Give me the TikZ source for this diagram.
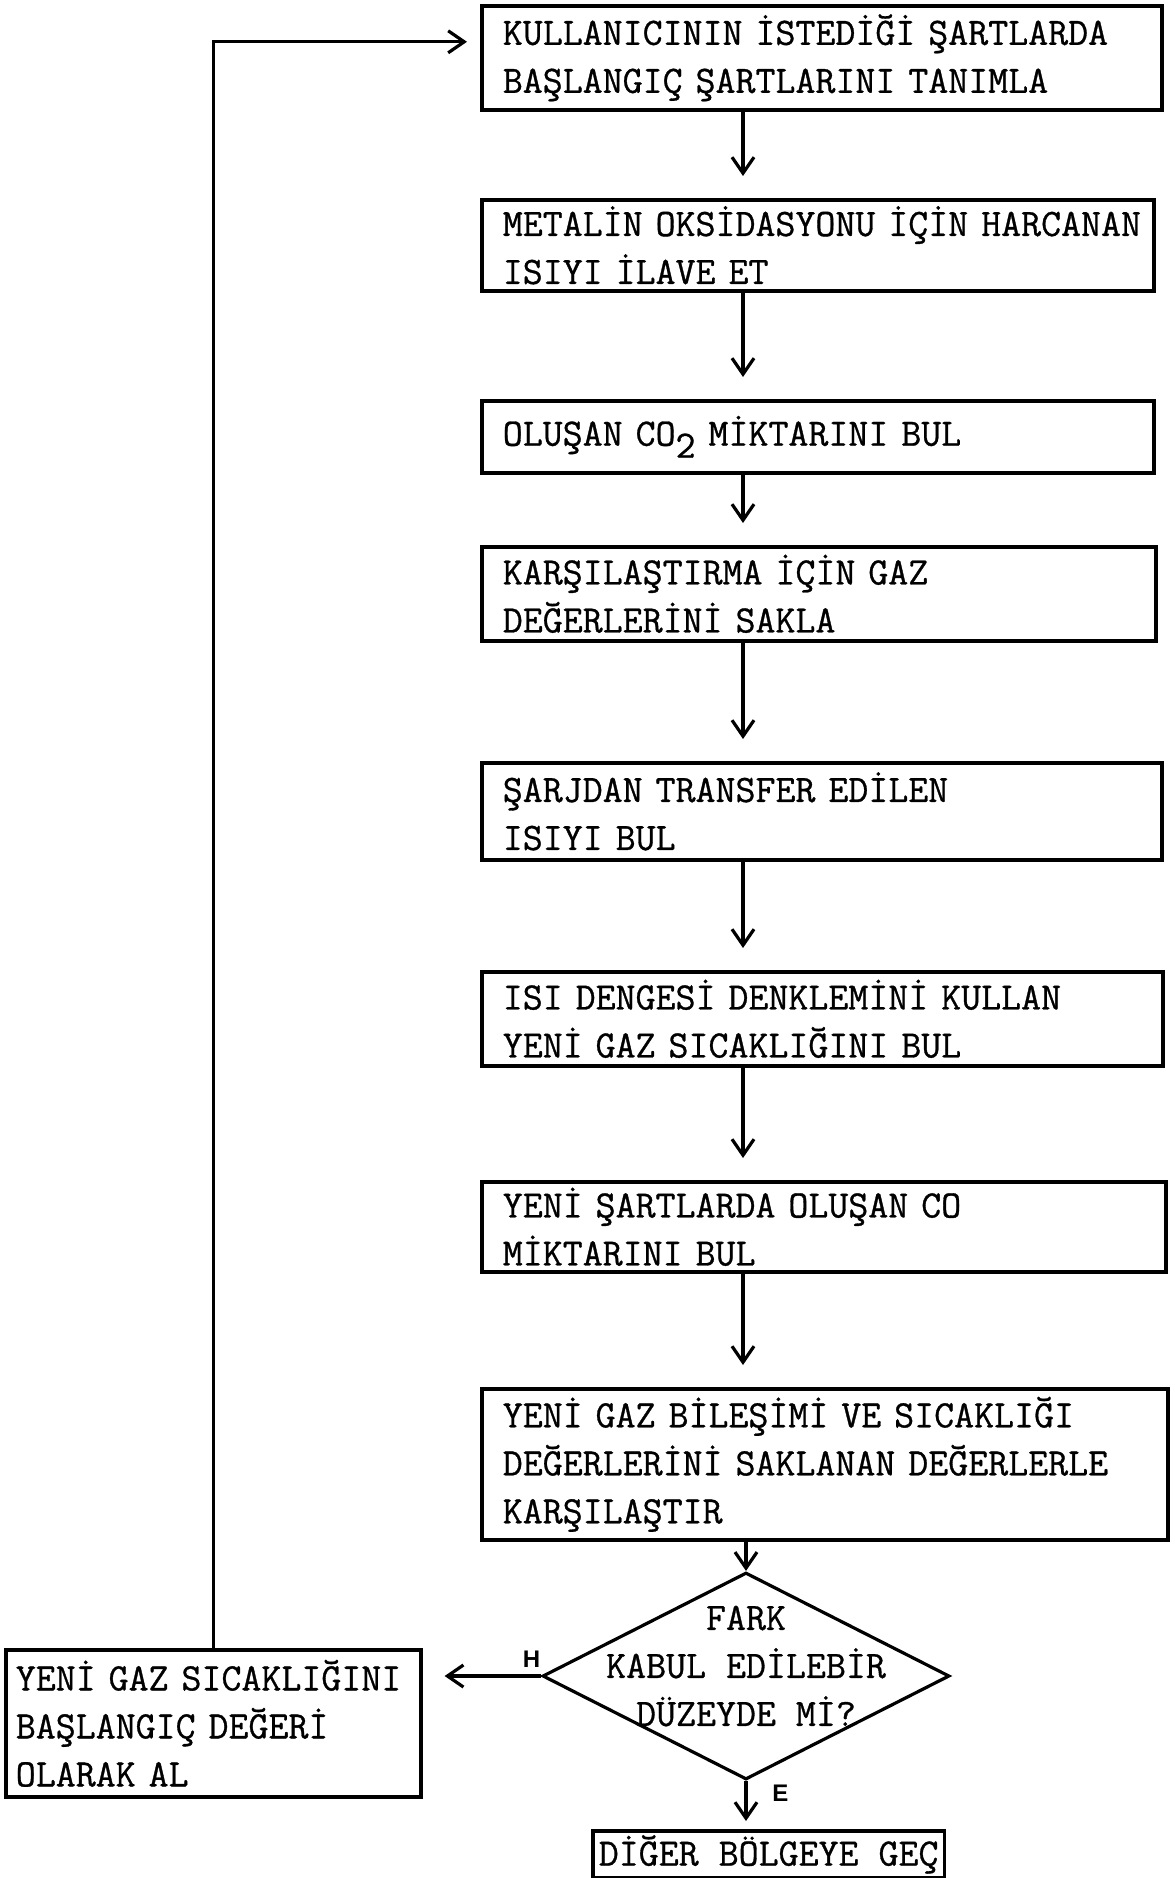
\documentclass[tikz,border=0pt]{standalone}
\usepackage{fontspec}
\setsansfont{Liberation Sans}
\newfontfamily\typewriter[FakeBold=0.8]{Latin Modern Mono}
\usetikzlibrary{arrows.meta,shapes.geometric}

\begin{document}
\begin{tikzpicture}[x=0.5pt, y=-0.5pt, >={Straight Barb[length=8pt,width=11pt]},
 every node/.style={font=\typewriter\fontsize{19.4}{24}\selectfont},
 stepbox/.style={draw, line width=1.8pt, anchor=north west, align=left,
  inner xsep=10.5pt, inner ysep=2pt},
 flow/.style={->, line width=1.6pt, shorten >=11pt},
 answer/.style={font=\sffamily\bfseries\fontsize{12}{14}\selectfont}]
\useasboundingbox (0,0) rectangle (1174,1878);
\coordinate (spine) at (743,0);
\node[stepbox, minimum width=340pt, minimum height=52pt, text width=319pt] (init) at (480,4)
 {KULLANICININ İSTEDİĞİ ŞARTLARDA\\BAŞLANGIÇ ŞARTLARINI TANIMLA};
\node[stepbox, minimum width=336pt, minimum height=45.5pt, text width=315pt] (oxid) at (480,198)
 {\mbox{METALİN OKSİDASYONU İÇİN HARCANAN}\\ISIYI İLAVE ET};
\node[stepbox, minimum width=336pt, minimum height=36pt, text width=315pt] (carbon) at (480,399)
 {OLUŞAN CO\raisebox{-6pt}{2} MİKTARINI BUL};
\node[stepbox, minimum width=337pt, minimum height=47pt, text width=316pt] (store) at (480,545)
 {KARŞILAŞTIRMA İÇİN GAZ\\DEĞERLERİNİ SAKLA};
\node[stepbox, minimum width=340pt, minimum height=48.5pt, text width=319pt] (charge) at (480,761)
 {ŞARJDAN TRANSFER EDİLEN\\ISIYI BUL};
\node[stepbox, minimum width=340.5pt, minimum height=47pt, text width=319.5pt] (balance) at (480,970)
 {ISI DENGESİ DENKLEMİNİ KULLAN\\YENİ GAZ SICAKLIĞINI BUL};
\node[stepbox, minimum width=342pt, minimum height=45pt, text width=321pt] (monox) at (480,1180)
 {YENİ ŞARTLARDA OLUŞAN CO\\MİKTARINI BUL};
\node[stepbox, minimum width=343pt, minimum height=75.5pt, text width=322pt] (compare) at (480,1387)
 {YENİ GAZ BİLEŞİMİ VE SICAKLIĞI\\DEĞERLERİNİ SAKLANAN DEĞERLERLE\\KARŞILAŞTIR};
\node[diamond, draw, line width=1.6pt, minimum width=203.5pt, minimum height=103.5pt, inner sep=0pt,
 label={[align=center, yshift=5pt]center:FARK\\KABUL EDİLEBİR\\DÜZEYDE Mİ?}] (diff) at (746,1676) {};
\node[stepbox, minimum width=207.5pt, minimum height=73.5pt, inner xsep=5pt, text width=197.5pt] (reset) at (4,1648)
 {YENİ GAZ SICAKLIĞINI\\BAŞLANGIÇ DEĞERİ\\OLARAK AL};
\node[stepbox, minimum width=174.5pt, minimum height=23.5pt, inner xsep=3pt, align=center] (next) at (591,1829)
 {DİĞER BÖLGEYE GEÇ};
% main chain
\draw[flow] (init.south -| spine) -- (oxid.north -| spine);
\draw[flow] (oxid.south -| spine) -- (carbon.north -| spine);
\draw[flow] (carbon.south -| spine) -- (store.north -| spine);
\draw[flow] (store.south -| spine) -- (charge.north -| spine);
\draw[flow] (charge.south -| spine) -- (balance.north -| spine);
\draw[flow] (balance.south -| spine) -- (monox.north -| spine);
\draw[flow] (monox.south -| spine) -- (compare.north -| spine);
\draw[flow, shorten >=0pt] (compare.south -| diff.north) -- (diff.north);
% decision
\draw[flow, shorten >=4pt] (diff.south) -- (next.north -| diff.south)
 node[answer, pos=0.25, right=9pt] {E};
\draw[flow] (diff.west) -- (reset.east |- diff.west)
 node[answer, pos=0.08, above=0pt] {H};
\draw[flow, shorten >=6.5pt] (reset.north) |- ([yshift=8pt]init.west);
\end{tikzpicture}
\end{document}
